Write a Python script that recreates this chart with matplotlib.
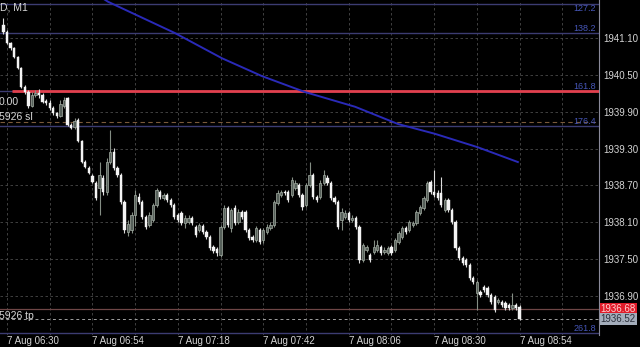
import matplotlib
matplotlib.use("Agg")
import matplotlib.pyplot as plt
import matplotlib.transforms as mtransforms
import numpy as np

plt.rcParams['font.family'] = ['Liberation Sans', 'DejaVu Sans']

# M1 candles, first one at 06:29
opens = [1941.31, 1941.20, 1941.02, 1940.94, 1940.79, 1940.61, 1940.30, 1940.22, 1939.99, 1940.17,
         1940.20, 1940.17, 1940.07, 1940.04, 1939.96, 1939.88, 1939.83, 1939.99, 1940.12, 1939.68,
         1939.65, 1939.76, 1939.42, 1939.08, 1938.98, 1938.85, 1938.74, 1938.66, 1938.82, 1938.59,
         1939.08, 1939.24, 1938.98, 1938.87, 1938.43, 1937.94, 1937.97, 1938.22, 1938.51, 1938.43,
         1938.19, 1938.05, 1938.14, 1938.38, 1938.59, 1938.49, 1938.54, 1938.46, 1938.38, 1938.22,
         1938.25, 1938.09, 1938.10, 1938.17, 1938.02, 1937.97, 1938.04, 1937.94, 1937.86, 1937.70,
         1937.66, 1937.57, 1938.02, 1938.33, 1938.01, 1938.33, 1938.10, 1938.27, 1938.27, 1937.97,
         1937.86, 1937.81, 1937.97, 1937.81, 1937.94, 1938.01, 1938.05, 1938.41, 1938.54, 1938.59,
         1938.59, 1938.54, 1938.66, 1938.71, 1938.54, 1938.38, 1938.71, 1938.87, 1938.51, 1938.51,
         1938.74, 1938.82, 1938.74, 1938.49, 1938.43, 1938.14, 1938.19, 1938.25, 1938.14, 1938.17,
         1938.02, 1937.48, 1937.65, 1937.57, 1937.61, 1937.65, 1937.70, 1937.61, 1937.60, 1937.70,
         1937.65, 1937.78, 1937.86, 1938.01, 1937.97, 1938.05, 1938.09, 1938.25, 1938.33, 1938.46,
         1938.75, 1938.59, 1938.58, 1938.58, 1938.30, 1938.46, 1938.30, 1938.10, 1937.68, 1937.52,
         1937.48, 1937.40, 1937.19, 1936.94, 1936.96, 1937.05, 1937.03, 1936.91, 1936.88, 1936.80,
         1936.80, 1936.78, 1936.75, 1936.70, 1936.75, 1936.72]
highs = [1941.43, 1941.23, 1941.04, 1940.95, 1940.81, 1940.63, 1940.34, 1940.25, 1940.22, 1940.25,
         1940.27, 1940.20, 1940.11, 1940.09, 1939.99, 1939.89, 1940.09, 1940.14, 1940.14, 1939.72,
         1939.80, 1939.80, 1939.44, 1939.11, 1939.02, 1938.88, 1938.77, 1939.08, 1938.87, 1939.15,
         1939.60, 1939.31, 1939.02, 1938.90, 1938.46, 1938.14, 1938.27, 1938.62, 1938.58, 1938.46,
         1938.22, 1938.27, 1938.41, 1938.66, 1938.62, 1938.58, 1938.58, 1938.49, 1938.41, 1938.25,
         1938.28, 1938.22, 1938.22, 1938.20, 1938.05, 1938.09, 1938.07, 1937.97, 1937.89, 1937.73,
         1937.70, 1938.05, 1938.38, 1938.36, 1938.33, 1938.38, 1938.31, 1938.30, 1938.30, 1938.01,
         1937.89, 1938.04, 1938.01, 1938.01, 1938.07, 1938.10, 1938.46, 1938.62, 1938.62, 1938.62,
         1938.62, 1938.84, 1938.79, 1938.74, 1938.58, 1938.74, 1939.08, 1938.90, 1938.54, 1938.79,
         1938.95, 1938.87, 1938.77, 1938.53, 1938.46, 1938.33, 1938.30, 1938.28, 1938.22, 1938.20,
         1938.05, 1937.76, 1937.73, 1937.60, 1937.81, 1937.81, 1937.73, 1937.70, 1937.71, 1937.73,
         1937.84, 1937.96, 1938.04, 1938.04, 1938.14, 1938.12, 1938.30, 1938.38, 1938.53, 1938.77,
         1938.79, 1938.95, 1938.62, 1938.84, 1938.49, 1938.49, 1938.33, 1938.14, 1937.71, 1937.55,
         1937.52, 1937.44, 1937.22, 1937.16, 1937.00, 1937.08, 1937.06, 1936.95, 1936.91, 1936.87,
         1936.83, 1936.82, 1936.78, 1936.95, 1936.78, 1936.75]
lows = [1941.17, 1941.00, 1940.90, 1940.77, 1940.60, 1940.29, 1940.19, 1939.96, 1939.98, 1940.14,
        1940.12, 1940.04, 1940.01, 1939.93, 1939.85, 1939.80, 1939.81, 1939.96, 1939.67, 1939.62,
        1939.62, 1939.41, 1939.06, 1938.98, 1938.88, 1938.74, 1938.46, 1938.22, 1938.54, 1938.54,
        1939.05, 1938.95, 1938.84, 1938.40, 1937.92, 1937.88, 1937.92, 1938.04, 1938.40, 1938.15,
        1937.99, 1938.02, 1938.10, 1938.35, 1938.48, 1938.46, 1938.43, 1938.35, 1938.15, 1938.10,
        1938.05, 1938.01, 1938.07, 1938.05, 1937.86, 1937.94, 1937.91, 1937.83, 1937.65, 1937.60,
        1937.55, 1937.53, 1937.99, 1938.02, 1937.94, 1938.05, 1938.07, 1938.15, 1937.94, 1937.81,
        1937.78, 1937.78, 1937.75, 1937.76, 1937.91, 1937.97, 1938.02, 1938.38, 1938.51, 1938.54,
        1938.43, 1938.51, 1938.62, 1938.51, 1938.30, 1938.35, 1938.67, 1938.48, 1938.43, 1938.48,
        1938.71, 1938.71, 1938.46, 1938.40, 1937.99, 1937.97, 1938.15, 1938.10, 1938.10, 1937.99,
        1937.44, 1937.45, 1937.61, 1937.45, 1937.58, 1937.61, 1937.57, 1937.58, 1937.57, 1937.57,
        1937.61, 1937.75, 1937.83, 1937.91, 1937.94, 1938.02, 1938.05, 1938.22, 1938.30, 1938.43,
        1938.56, 1938.51, 1938.46, 1938.35, 1938.27, 1938.27, 1938.07, 1937.65, 1937.48, 1937.40,
        1937.37, 1937.16, 1937.09, 1936.67, 1936.88, 1936.96, 1936.88, 1936.77, 1936.64, 1936.77,
        1936.72, 1936.67, 1936.67, 1936.67, 1936.67, 1936.51]
closes = [1941.20, 1941.02, 1940.94, 1940.79, 1940.61, 1940.30, 1940.22, 1939.99, 1940.17, 1940.20,
          1940.17, 1940.06, 1940.04, 1939.96, 1939.88, 1939.83, 1940.02, 1940.09, 1939.68, 1939.63,
          1939.75, 1939.42, 1939.08, 1939.00, 1938.90, 1938.75, 1938.49, 1938.87, 1938.59, 1939.08,
          1939.24, 1938.98, 1938.87, 1938.43, 1937.97, 1938.07, 1938.22, 1938.54, 1938.43, 1938.19,
          1938.02, 1938.22, 1938.38, 1938.62, 1938.51, 1938.54, 1938.46, 1938.38, 1938.19, 1938.14,
          1938.09, 1938.17, 1938.17, 1938.09, 1937.89, 1938.05, 1937.94, 1937.86, 1937.68, 1937.63,
          1937.60, 1938.02, 1938.33, 1938.05, 1938.30, 1938.09, 1938.27, 1938.19, 1937.97, 1937.84,
          1937.81, 1938.01, 1937.78, 1937.97, 1938.02, 1938.05, 1938.43, 1938.58, 1938.59, 1938.58,
          1938.46, 1938.79, 1938.74, 1938.54, 1938.35, 1938.71, 1938.87, 1938.51, 1938.46, 1938.74,
          1938.87, 1938.74, 1938.49, 1938.43, 1938.02, 1938.27, 1938.25, 1938.14, 1938.17, 1938.02,
          1937.48, 1937.73, 1937.70, 1937.48, 1937.70, 1937.73, 1937.60, 1937.65, 1937.68, 1937.60,
          1937.81, 1937.92, 1938.01, 1937.94, 1938.10, 1938.09, 1938.27, 1938.35, 1938.49, 1938.74,
          1938.59, 1938.54, 1938.49, 1938.38, 1938.46, 1938.30, 1938.10, 1937.68, 1937.52, 1937.44,
          1937.40, 1937.19, 1937.13, 1937.13, 1936.91, 1937.00, 1936.91, 1936.80, 1936.67, 1936.83,
          1936.75, 1936.70, 1936.70, 1936.75, 1936.70, 1936.52]
first_minute = -1  # 06:29 relative to 06:30

# moving average (minutes after 06:30, price)
ma_minutes = [26.5, 28.4, 47.2, 60.4, 71.6, 83.7, 97.8, 109.8, 120.2, 132.3, 143.5]
ma_prices = [1941.76, 1941.69, 1941.18, 1940.77, 1940.48, 1940.22, 1939.98, 1939.70, 1939.54, 1939.32, 1939.08]

fib_levels = ['127.2', '138.2', '161.8', '176.4', '261.8']
fib_prices = [1941.65, 1941.18, 1940.24, 1939.66, 1936.30]

entry_price = 1940.24
sl_price = 1939.73
tp_price = 1936.68
bid_price = 1936.52

price_ticks = [1941.10, 1940.50, 1939.90, 1939.30, 1938.70, 1938.10, 1937.50, 1936.90]
time_ticks = [0, 24, 48, 72, 96, 120, 144]
time_labels = ['7 Aug 06:30', '7 Aug 06:54', '7 Aug 07:18', '7 Aug 07:42',
               '7 Aug 08:06', '7 Aug 08:30', '7 Aug 08:54']
grid_minutes = list(range(0, 168, 12))

W, H = 640, 347
fig = plt.figure(figsize=(W / 100, H / 100), dpi=100, facecolor='black')
ax = fig.add_axes([0, 1 - 335 / H, 599 / W, 335 / H], facecolor='black')
ax.set_xlim(-1.97, 166.3)
ax.set_ylim(1936.263, 1941.719)

for s in ['top', 'left', 'bottom']:
    ax.spines[s].set_visible(False)
ax.spines['right'].set_color('#8a8a9a')
ax.spines['right'].set_linewidth(0.8)

# grid
for p in price_ticks:
    ax.axhline(p, color='#4a4a4a', lw=0.6, ls=(0, (3, 3)), zorder=0)
for m in grid_minutes:
    ax.axvline(m, color='#4a4a4a', lw=0.6, ls=(0, (3, 3)), zorder=0)

# fib lines
xr = ax.get_xlim()[1]
trans = mtransforms.blended_transform_factory(ax.transAxes, ax.transData)
for lvl, p in zip(fib_levels, fib_prices):
    ax.axhline(p, color='#3c3c72', lw=1.0, zorder=1)
    # top level label would run off the figure, so hang it under its line
    va = 'top' if p > 1941.5 else 'bottom'
    ax.text(0.995, p, lvl, transform=trans, ha='right', va=va,
            fontsize=6.5, color='#4656b8', zorder=5)

# order lines
ax.hlines(entry_price, 1.4, xr, color='#e2404e', lw=2.0, zorder=3)
ax.axhline(sl_price, color='#7a5a3a', lw=0.8, ls=(0, (4, 3)), zorder=2)
ax.axhline(tp_price, color='#6e4646', lw=0.9, zorder=2)
ax.axhline(bid_price, color='#a0a0a0', lw=0.7, ls=(0, (3, 3)), zorder=2)

# moving average
ax.plot(ma_minutes, ma_prices, color='#2a2ab8', lw=1.4, zorder=4)

# candles
t = np.arange(len(opens)) + first_minute
o = np.array(opens); c = np.array(closes)
hi = np.array(highs); lo = np.array(lows)
up = c >= o
ax.vlines(t[up], lo[up], hi[up], color='#848e84', lw=0.8, zorder=5)
ax.vlines(t[~up], lo[~up], hi[~up], color='#dcdcdc', lw=0.8, zorder=5)
body_lo = np.minimum(o, c)
body_h = np.maximum(np.abs(c - o), 0.012)
ax.bar(t[up], body_h[up], bottom=body_lo[up], width=0.65, color='#56605a',
       edgecolor='#a4aea4', linewidth=0.5, zorder=6)
ax.bar(t[~up], body_h[~up], bottom=body_lo[~up], width=0.65, color='#f4f4f4',
       edgecolor='#f4f4f4', linewidth=0.3, zorder=6)

# axes ticks
ax.yaxis.tick_right()
ax.set_yticks(price_ticks)
ax.set_yticklabels([f'{p:.2f}' for p in price_ticks])
ax.tick_params(axis='y', length=0, pad=3, labelsize=7, labelcolor='#d4d4d4')
ax.set_xticks(time_ticks)
ax.set_xticklabels(time_labels)
ax.tick_params(axis='x', length=0, pad=0.5, labelsize=7, labelcolor='#d4d4d4')
for lbl in ax.get_xticklabels():
    lbl.set_ha('left')

# price boxes
ax.text(1.003, tp_price, f'{tp_price:.2f}', transform=trans, ha='left', va='center',
        fontsize=7, color='#ffd0d0', clip_on=False, zorder=10,
        bbox=dict(boxstyle='square,pad=0.12', fc='#e01c2a', ec='none'))
ax.text(1.003, bid_price, f'{bid_price:.2f}', transform=trans, ha='left', va='center',
        fontsize=7, color='#2a2f3a', clip_on=False, zorder=10,
        bbox=dict(boxstyle='square,pad=0.12', fc='#a4adbb', ec='none'))

# left-side labels
def px_text(x, y, s, **kw):
    fig.text(x / W, 1 - y / H, s, va='center', ha='left', fontsize=7.5, color='#d8d8d8', **kw)

px_text(0, 8, 'D, M1')
px_text(-1, 102, '0.00')
px_text(-1, 117, '5926 sl')
px_text(-1, 316, '5926 tp')

fig.savefig('out.png', dpi=100, facecolor='black')
